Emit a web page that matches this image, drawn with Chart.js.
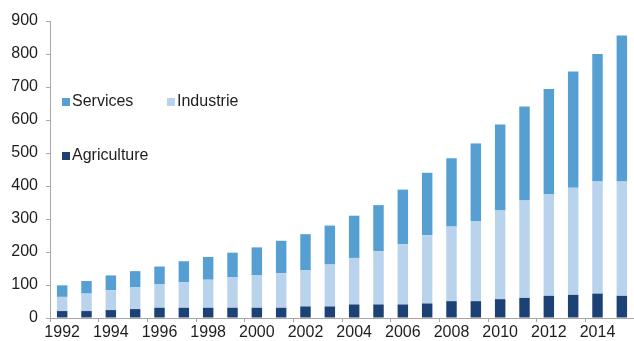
<!DOCTYPE html>
<html lang="fr">
<head>
    <meta charset="UTF-8">
    <title>Valeur ajoutée par secteur</title>
    <style>
        html, body {
            margin: 0;
            padding: 0;
            background: #ffffff;
        }
        .wrap {
            width: 634px;
            height: 341px;
        }
    </style>
    <script src="https://cdn.jsdelivr.net/npm/chart.js"></script>
</head>
<body>
    <div class="wrap">
        <canvas id="sectorChart" width="634" height="341"></canvas>
    </div>

    <script>
        const years = ['1992', '1993', '1994', '1995', '1996', '1997', '1998', '1999',
            '2000', '2001', '2002', '2003', '2004', '2005', '2006', '2007',
            '2008', '2009', '2010', '2011', '2012', '2013', '2014', '2015'];

        const agriculture = [21, 21, 24, 27, 31, 31, 31, 31, 31, 31, 35, 35,
            41, 41, 41, 44, 51, 51, 57, 61, 67, 70, 74, 67];
        const industrie = [43, 53, 60, 67, 72, 78, 85, 92, 98, 105, 110, 127,
            141, 161, 183, 207, 226, 243, 269, 295, 309, 325, 340, 347];
        const services = [35, 38, 45, 48, 53, 63, 69, 75, 85, 98, 109, 118,
            128, 140, 165, 189, 207, 235, 260, 285, 318, 352, 386, 442];

        const yTicks = [0, 100, 200, 300, 400, 500, 600, 700, 800, 900];

        const FONT = 'Arial, "Liberation Sans", sans-serif';
        const AXIS_GREY = '#a6a6a6';
        const TEXT = '#1e1e1e';

        // two-column legend drawn inside the plot, Excel style
        const insideLegend = {
            id: 'insideLegend',
            afterDraw(chart) {
                const ctx = chart.ctx;
                const ds = chart.data.datasets;
                const spots = [
                    { i: 2, x: 62, y: 102 },
                    { i: 1, x: 167, y: 102 },
                    { i: 0, x: 62, y: 156 }
                ];
                ctx.save();
                ctx.font = '16px ' + FONT;
                ctx.textBaseline = 'middle';
                spots.forEach(s => {
                    ctx.fillStyle = ds[s.i].backgroundColor;
                    ctx.fillRect(s.x, s.y - 4, 8, 8);
                    ctx.fillStyle = TEXT;
                    ctx.fillText(ds[s.i].label, s.x + 10, s.y);
                });
                ctx.restore();
            }
        };

        const ctx = document.getElementById('sectorChart').getContext('2d');
        new Chart(ctx, {
            type: 'bar',
            data: {
                labels: years,
                datasets: [
                    { label: 'Agriculture', data: agriculture, backgroundColor: '#1c4175' },
                    { label: 'Industrie', data: industrie, backgroundColor: '#bad3ec' },
                    { label: 'Services', data: services, backgroundColor: '#559fd3' }
                ]
            },
            options: {
                responsive: false,
                animation: false,
                layout: { padding: { top: 21, right: 0, left: 0, bottom: 0 } },
                datasets: {
                    bar: {
                        categoryPercentage: 1,
                        barPercentage: 0.43,
                        borderWidth: 0
                    }
                },
                plugins: {
                    legend: { display: false },
                    tooltip: { enabled: false }
                },
                scales: {
                    x: {
                        stacked: true,
                        border: { color: AXIS_GREY, width: 1 },
                        grid: {
                            offset: true,
                            drawOnChartArea: false,
                            tickLength: 4,
                            color: c => (c.index % 2 === 0 ? AXIS_GREY : 'rgba(0,0,0,0)')
                        },
                        ticks: {
                            autoSkip: false,
                            maxRotation: 0,
                            padding: 1,
                            color: TEXT,
                            font: { family: FONT, size: 16 },
                            callback: (v, i) => (i % 2 === 0 ? years[i] : '')
                        },
                        afterFit: scale => { scale.height = 23; }
                    },
                    y: {
                        stacked: true,
                        min: yTicks[0],
                        max: yTicks[yTicks.length - 1],
                        afterBuildTicks: scale => {
                            scale.ticks = yTicks.map(v => ({ value: v }));
                        },
                        border: { color: AXIS_GREY, width: 1 },
                        grid: {
                            drawOnChartArea: false,
                            tickLength: 4,
                            color: AXIS_GREY
                        },
                        ticks: {
                            padding: 8,
                            color: TEXT,
                            font: { family: FONT, size: 16 }
                        },
                        afterFit: scale => { scale.width = 50; }
                    }
                }
            },
            plugins: [insideLegend]
        });
    </script>
</body>
</html>
